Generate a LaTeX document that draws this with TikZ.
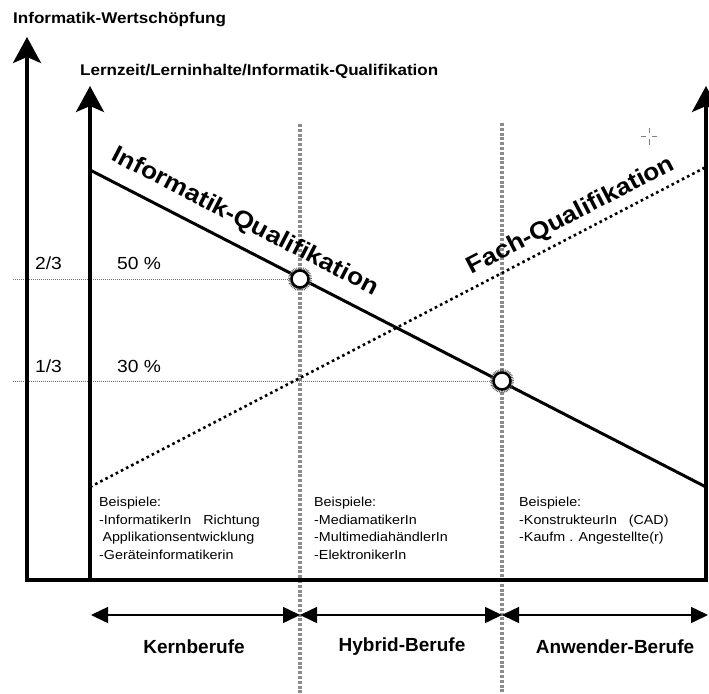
\documentclass[tikz,border=0pt]{standalone}
\usepackage{fontspec}
\setmainfont{Liberation Sans}
\usetikzlibrary{arrows.meta}
\newcommand{\hs}[1]{\scalebox{1.1}[1]{#1}}
\tikzset{axtip/.tip={Stealth[length=26pt,width=28pt,inset=6pt]},
  spantip/.tip={Triangle[length=17pt,width=16pt]}}
\begin{document}
\begin{tikzpicture}[x=1pt,y=-1pt,
  axis/.style={line width=3.5pt, line join=miter},
  vdot/.style={line width=4pt,color=black!45,dash pattern=on 3pt off 1.8pt},
  hdot/.style={line width=0.8pt,color=black!55,dash pattern=on 1pt off 1pt},
  infline/.style={line width=3pt},
  fachline/.style={line width=2.6pt,dash pattern=on 2.6pt off 3.2pt},
  circ/.style={circle,draw,fill=white,line width=2.5pt,minimum size=17pt,inner sep=0pt},
  halo/.style={line width=3pt,color=black!65,dash pattern=on 0.7pt off 0.9pt},
  span/.style={line width=1.5pt,spantip-spantip},
  title/.style={font=\fontsize{15.5}{18}\selectfont\bfseries,inner sep=0pt,anchor=west},
  big/.style={font=\fontsize{24}{28}\selectfont\bfseries,inner sep=0pt},
  frac/.style={font=\fontsize{17.5}{20}\selectfont,inner sep=0pt},
  small/.style={font=\fontsize{13}{17.5}\selectfont,inner sep=0pt,anchor=north west},
  cat/.style={font=\fontsize{19}{22}\selectfont\bfseries,inner sep=0pt}
]
\useasboundingbox (0,0) rectangle (709,693);

% key coordinates
\coordinate (ytop) at (27,37);
\coordinate (O) at (27,580);
\coordinate (R) at (706,580);
\coordinate (rtop) at (706,86);
\coordinate (ibot) at (90,580);
\coordinate (itop) at (90,86);
\coordinate (v1t) at (300,124);
\coordinate (v1b) at (300,693);
\coordinate (v2t) at (502,123);
\coordinate (v2b) at (502,693);
\coordinate (infA) at (90,170);
\coordinate (infB) at (706,487);
\coordinate (fachA) at (90,487);
\coordinate (fachB) at (706,167);
\coordinate (h1) at (13,279);
\coordinate (h2) at (13,381);
\coordinate (a0) at (91,615);
\coordinate (a1) at (300,615);
\coordinate (a2) at (502,615);
\coordinate (a3) at (708,615);

% vertical separators
\draw[vdot] (v1t) -- (v1b);
\draw[vdot] (v2t) -- (v2b);

% circle positions on the Informatik line
\coordinate (c1) at (300,279);
\coordinate (c2) at (502,381);

% horizontal guide lines
\draw[hdot] (h1) -- (c1);
\draw[hdot] (h2) -- (c2);

% axes
\draw[axis,axtip-axtip] (ytop) -- (O) -- (R) -- (rtop);
\draw[axis,-axtip] (ibot) -- (itop);

% curves
\draw[fachline] (fachA) -- (fachB);
\draw[infline] (infA) -- (infB);

% circles
\draw[halo] (c1) circle (10.5pt);
\draw[halo] (c2) circle (10.5pt);
\node[circ] (k1) at (c1) {};
\node[circ] (k2) at (c2) {};

% span arrows
\draw[span] (a0) -- (a1);
\draw[span] (a1) -- (a2);
\draw[span] (a2) -- (a3);

% cursor cross
\draw[black!50,line width=0.8pt] (641,136) -- (646,136) (652,136) -- (657,136)
  (649,128) -- (649,133) (649,139) -- (649,145);

% texts
\node[title] (t1) at (13,20) {\hs{Informatik-Wertschöpfung}};
\node[title] (t2) at (80,71) {\hs{Lernzeit/Lerninhalte/Informatik-Qualifikation}};
\node[big,rotate=-27.3] (iq) at (245,222) {\hs{Informatik-Qualifikation}};
\node[big,rotate=27.4] (fq) at (571,216) {\hs{Fach-Qualifikation}};
\node[frac] (f23) at (48.5,263) {\hs{2/3}};
\node[frac] (f13) at (48.5,366) {\hs{1/3}};
\node[frac] (p50) at (139,263) {\hs{50 \%}};
\node[frac] (p30) at (139,366) {\hs{30 \%}};

\node[small] (ex1) at (99,494.4) {\hs{\begin{tabular}{@{}l@{}}Beispiele:\\-InformatikerIn\ \ \ Richtung\\\hspace*{3pt}Applikationsentwicklung\\-Geräteinformatikerin\end{tabular}}};
\node[small] (ex2) at (314,494.4) {\hs{\begin{tabular}{@{}l@{}}Beispiele:\\-MediamatikerIn\\-MultimediahändlerIn\\-ElektronikerIn\end{tabular}}};
\node[small] (ex3) at (519,494.4) {\hs{\begin{tabular}{@{}l@{}}Beispiele:\\-KonstrukteurIn\ \ \ (CAD)\\-Kaufm . Angestellte(r)\end{tabular}}};

\node[cat] (kb) at (194,647) {Kernberufe};
\node[cat] (hb) at (402,647) {Hybrid-Berufe};
\node[cat] (ab) at (615,647) {Anwender-Berufe};
\end{tikzpicture}
\end{document}
